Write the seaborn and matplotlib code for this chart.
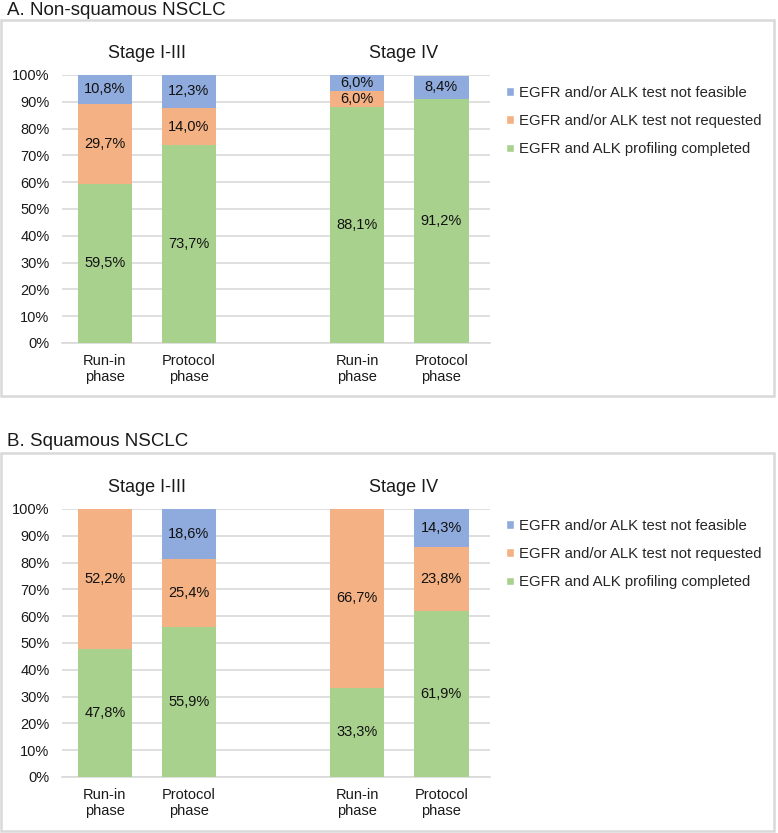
import matplotlib
matplotlib.use("Agg")
import matplotlib.pyplot as plt
from matplotlib.patches import Rectangle, Patch
import seaborn as sns

# ---- data ----
positions = [0, 1, 3, 4]
phase_labels = ["Run-in\nphase", "Protocol\nphase", "Run-in\nphase", "Protocol\nphase"]
stage_labels = ["Stage I-III", "Stage IV"]
series_names = ["EGFR and/or ALK test not feasible",
                "EGFR and/or ALK test not requested",
                "EGFR and ALK profiling completed"]

# A. Non-squamous
a_completed = [59.5, 73.7, 88.1, 91.2]
a_not_requested = [29.7, 14.0, 6.0, 0.0]
a_not_feasible = [10.8, 12.3, 6.0, 8.4]

# B. Squamous
b_completed = [47.8, 55.9, 33.3, 61.9]
b_not_requested = [52.2, 25.4, 66.7, 23.8]
b_not_feasible = [0.0, 18.6, 0.0, 14.3]

colors = {"feasible": "#8FAADC", "requested": "#F4B183", "completed": "#A9D18E"}
grid_col = "#D9D9D9"

sns.set_theme(style="white")
plt.rcParams["font.family"] = ["Liberation Sans", "DejaVu Sans"]

W, H = 778, 833
fig = plt.figure(figsize=(W / 100, H / 100), dpi=100)


def px_axes(left, top, right, bottom):
    return fig.add_axes([left / W, 1 - bottom / H, (right - left) / W, (bottom - top) / H])


def draw_panel(ax, completed, not_requested, not_feasible, stage_y_px, legend_top_px):
    layers = [
        (completed, [0, 0, 0, 0], colors["completed"]),
        (not_requested, completed, colors["requested"]),
        (not_feasible, [c + r for c, r in zip(completed, not_requested)], colors["feasible"]),
    ]
    for vals, base, col in layers:
        sns.barplot(x=positions, y=vals, bottom=base, native_scale=True, width=0.65,
                    color=col, saturation=1, edgecolor="none", linewidth=0, ax=ax, zorder=3)
        for xp, v, b in zip(positions, vals, base):
            if v > 0:
                ax.text(xp, b + v / 2, f"{v:.1f}%".replace(".", ","), ha="center", va="center",
                        fontsize=10.5, color="#111111", zorder=4)

    ax.set_xlim(-0.51, 4.58)
    ax.set_ylim(0, 100)
    ax.set_yticks(range(0, 101, 10))
    ax.set_yticklabels([f"{t}%" for t in range(0, 101, 10)])
    ax.set_xticks(positions)
    ax.set_xticklabels(phase_labels)
    ax.tick_params(axis="both", length=0, labelsize=10.5, colors="#1a1a1a")
    ax.tick_params(axis="y", pad=9)
    ax.tick_params(axis="x", pad=8)
    ax.yaxis.grid(True, color=grid_col, linewidth=1.2, zorder=0)
    ax.set_axisbelow(True)
    for s in ["top", "right", "left"]:
        ax.spines[s].set_visible(False)
    ax.spines["bottom"].set_color(grid_col)
    ax.spines["bottom"].set_linewidth(1.2)
    ax.set_xlabel("")
    ax.set_ylabel("")

    # stage headers
    for xc, lab in zip([0.5, 3.55], stage_labels):
        fig.text((ax.transData.transform((xc, 0))[0]) / fig.dpi / fig.get_figwidth(),
                 1 - stage_y_px / H, lab, ha="center", va="center", fontsize=13, color="#1a1a1a")

    handles = [Patch(facecolor=colors["feasible"]), Patch(facecolor=colors["requested"]),
               Patch(facecolor=colors["completed"])]
    fig.legend(handles, series_names, loc="upper left",
               bbox_to_anchor=(506 / W, 1 - legend_top_px / H), frameon=False,
               fontsize=10.7, handlelength=0.55, handleheight=0.55, handletextpad=0.35,
               labelspacing=0.95, borderaxespad=0, borderpad=0)


# panel A
fig.add_artist(Rectangle((1 / W, 1 - 396 / H), 773 / W, 376 / H, transform=fig.transFigure,
                         fill=False, edgecolor=grid_col, linewidth=1.8))
fig.text(7 / W, 1 - 10.5 / H, "A. Non-squamous NSCLC", ha="left", va="center",
         fontsize=13.5, color="#1a1a1a")
ax_a = px_axes(62, 75, 490, 343)
draw_panel(ax_a, a_completed, a_not_requested, a_not_feasible, 54, 86)

# panel B
fig.add_artist(Rectangle((1 / W, 1 - 831 / H), 773 / W, 378 / H, transform=fig.transFigure,
                         fill=False, edgecolor=grid_col, linewidth=1.8))
fig.text(7 / W, 1 - 442 / H, "B. Squamous NSCLC", ha="left", va="center",
         fontsize=13.5, color="#1a1a1a")
ax_b = px_axes(62, 509, 490, 777)
draw_panel(ax_b, b_completed, b_not_requested, b_not_feasible, 487, 519)

fig.savefig("out.png", dpi=100)
